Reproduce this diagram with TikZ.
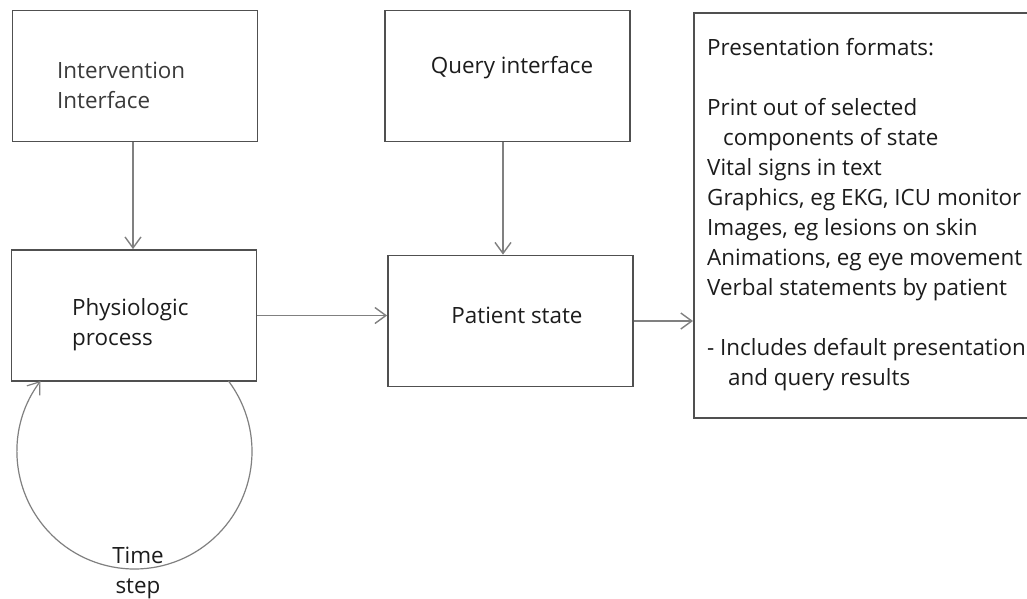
\documentclass[tikz,border=0pt]{standalone}
\usepackage{fontspec}
\setmainfont{Open Sans}
\usetikzlibrary{arrows.meta}
\definecolor{boxgray}{HTML}{505050}
\definecolor{linegray}{HTML}{808080}
\definecolor{txt}{HTML}{1C1C1C}
\definecolor{txtlight}{HTML}{3A3A3A}
\begin{document}
\begin{tikzpicture}[x=1pt,y=-1pt,
  box/.style={draw=boxgray, line width=1.8pt, minimum width=245pt, minimum height=131pt, inner sep=0pt},
  lbl/.style={text=txt, inner sep=0pt, font=\fontsize{22.4}{30}\selectfont},
  conn/.style={draw=linegray, line width=1.5pt, -{Straight Barb[length=11pt,width=16pt,line width=1.4pt]}},
  loopline/.style={draw=linegray, line width=1.2pt, -{Straight Barb[length=11pt,width=16pt,line width=1.2pt]}},
]
\clip (0,0) rectangle (1027,598);
\fill[white] (0,0) rectangle (1027,598);

% boxes
\node[box] (interv) at (135,76) {};
\node[box] (query) at (507.5,76) {};
\node[box] (phys) at (134,315.5) {};
\node[box] (patient) at (510.5,321) {};
\node[box, anchor=north west, minimum width=360pt, minimum height=405pt] (pres) at (693,12) {};

% texts
\node[lbl, anchor=west, align=left, text=txtlight] (intervtxt) at (57,85) {Intervention\\Interface};
\node[lbl] (querytxt) at (512,68) {Query interface};
\node[lbl, anchor=west, align=left] (phystxt) at (72,325) {Physiologic\\process};
\node[lbl] (patienttxt) at (517,315) {Patient state};
\node[lbl, anchor=north west, align=left] (prestxt) at (707,38) {Presentation formats:\\
\mbox{}\\
Print out of selected\\
\hspace*{16pt}components of state\\
Vital signs in text\\
Graphics, eg EKG, ICU monitor\\
Images, eg lesions on skin\\
Animations, eg eye movement\\
Verbal statements by patient\\
\mbox{}\\
- Includes default presentation\\
\hspace*{21pt}and query results};
\node[lbl, align=center] (timestep) at (138,573) {Time\\step};

% connectors
\draw[conn] (interv.south -| 133,0) -- (phys.north -| 133,0);
\draw[conn] (query.south -| 503,0) -- (patient.north -| 503,0);
\draw[conn] (phys.east) -- (phys.east -| patient.west);
\draw[conn] (patient.east) -- (patient.east -| pres.west);
\coordinate (loopstart) at (228.5,381);
\draw[loopline] (loopstart) arc[start angle=-36.87, end angle=216.87, radius=117.5];
\end{tikzpicture}
\end{document}
